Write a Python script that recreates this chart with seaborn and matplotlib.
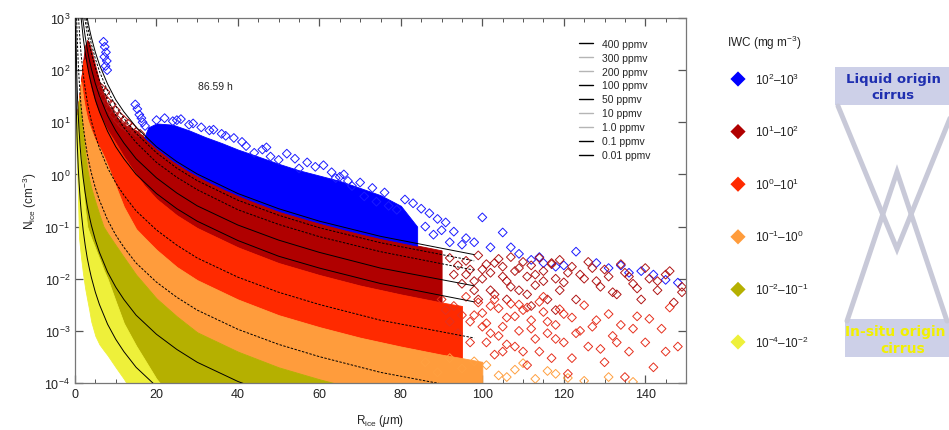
import numpy as np
import pandas as pd
import matplotlib
matplotlib.use("Agg")
import matplotlib.pyplot as plt
import seaborn as sns
from matplotlib.lines import Line2D
from matplotlib.patches import Rectangle
from matplotlib.ticker import MultipleLocator, NullLocator, LogLocator

nan = np.nan

# ---- data ----
# R grid (um) used for the dense IWC bands
r_grid = [0.2, 0.5, 1, 1.5, 2, 2.5, 3, 3.5, 4, 5, 6, 7, 8, 10, 12, 15, 17,
          20, 25, 30, 40, 50, 60, 70, 80, 90, 95, 100, 120, 140]
# top envelope of the dense cloud near the peak (cm-3)
env_top = [8, 14, 28, 60, 150, 300, 380, 330, 240, 120, 60, 35, 22, 13, 9, 7, 5.5,
           nan, nan, nan, nan, nan, nan, nan, nan, nan, nan, nan, nan, nan]
# band borders (cm-3): IWC = 100, 10, 1, 0.1, 0.01 mg m-3 and lower data edge
b_100 = [nan, nan, nan, 7560, 3190, 1630, 944, 595, 398, 204, 118, 74, 50, 25.5, 14.8, 7.6, 5.2,
         3.2, 1.63, 0.94, 0.40, 0.20, 0.118, 0.074, 0.050, 0.035, nan, nan, nan, nan]
b_10 = [nan, nan, 2550, 756, 319, 163, 94, 59, 40, 22, 14, 10, 7, 4, 2.2, 1.0, 0.62,
        0.34, 0.165, 0.094, 0.040, 0.020, 0.0118, 0.0074, 0.0050, 0.0035, 0.0030, nan, nan, nan]
b_1 = [nan, 700, 150, 60, 30, 18, 12, 9, 7, 4.5, 3.3, 2.3, 1.5, 0.6, 0.24, 0.09, 0.062,
       0.036, 0.0168, 0.0094, 0.0040, 0.0020, 0.00118, 7.4e-4, 5.0e-4, 3.5e-4, 3.0e-4, 2.55e-4, nan, nan]
b_01 = [400, 100, 35, 15, 6, 2.6, 1.3, 0.8, 0.55, 0.3, 0.17, 0.1, 0.075, 0.044, 0.026, 0.012, 0.0079,
        0.0042, 0.0019, 9.4e-4, 4.0e-4, 2.0e-4, 1.18e-4, 7.4e-5, 5e-5, 3.5e-5, 3.0e-5, 2.55e-5, nan, nan]
b_001 = [40, 20, 5, 1.5, 0.56, 0.21, 0.1, 0.076, 0.06, 0.038, 0.024, 0.015, 0.01, 0.0037, 0.0014, 5.2e-4, 2.9e-4,
         1.2e-4, 4e-5, 2e-5, 1e-5, 1e-5, 1e-5, nan, nan, nan, nan, nan, nan, nan]
b_floor = [6, 1.5, 0.06, 0.025, 0.012, 0.0065, 0.004, 0.0025, 0.0015, 8e-4, 5.5e-4, 4.3e-4, 3.4e-4, 2.0e-4, 1.2e-4, 5e-5, 3e-5,
           2e-5, 1e-5, 1e-5, nan, nan, nan, nan, nan, nan, nan, nan, nan, nan]

# dense blue band (IWC 10^2-10^3)
blue_r = [17, 18, 20, 24, 28, 32, 36, 40, 45, 50, 55, 60, 65, 70, 75, 80, 84]
blue_hi = [5.2, 8, 9.5, 9, 7, 5.2, 4, 3.0, 2.2, 1.6, 1.2, 0.95, 0.75, 0.55, 0.4, 0.25, 0.1]
blue_lo = [5.2, 4.4, 3.2, 1.84, 1.16, 0.78, 0.55, 0.40, 0.28, 0.20, 0.153, 0.118, 0.093, 0.074, 0.060, 0.050, 0.043]

# constant ice mixing ratio lines
line_labels = ["400 ppmv", "300 ppmv", "200 ppmv", "100 ppmv", "50 ppmv",
               "10 ppmv", "1.0 ppmv", "0.1 ppmv", "0.01 ppmv"]
line_r = [0.1, 0.2, 0.3, 0.4, 0.5, 0.6, 0.8, 1, 1.25, 1.5, 2, 2.5, 3, 3.5, 4, 5, 6, 8,
          10, 12, 15, 20, 25, 30, 40, 50, 60, 75, 98]
line_n = [
    [2.7e7, 3.4e6, 1.0e6, 4.3e5, 2.2e5, 1.3e5, 5.4e4, 2.7e4, 1.4e4, 8.1e3, 3.4e3, 1.8e3, 1.0e3, 640, 430, 220, 127, 54,
     27, 15.9, 8.1, 3.4, 1.76, 1.02, 0.43, 0.22, 0.127, 0.065, 0.029],
    [2.1e7, 2.6e6, 7.6e5, 3.2e5, 1.6e5, 9.5e4, 4.0e4, 2.1e4, 1.05e4, 6.1e3, 2.6e3, 1.3e3, 760, 480, 320, 165, 95, 40,
     20.6, 11.9, 6.1, 2.6, 1.32, 0.76, 0.32, 0.165, 0.095, 0.049, 0.022],
    [1.4e7, 1.7e6, 5.1e5, 2.1e5, 1.1e5, 6.4e4, 2.7e4, 1.4e4, 7.0e3, 4.1e3, 1.7e3, 880, 510, 320, 214, 110, 64, 27,
     13.7, 7.9, 4.1, 1.7, 0.88, 0.51, 0.21, 0.11, 0.064, 0.033, 0.0146],
    [6.9e6, 8.6e5, 2.5e5, 1.07e5, 5.5e4, 3.2e4, 1.3e4, 6.9e3, 3.5e3, 2.0e3, 860, 440, 254, 160, 107, 55, 32, 13.4,
     6.9, 4.0, 2.0, 0.86, 0.44, 0.25, 0.107, 0.055, 0.032, 0.016, 0.0073],
    [3.4e6, 4.3e5, 1.3e5, 5.4e4, 2.7e4, 1.6e4, 6.7e3, 3.4e3, 1.76e3, 1.0e3, 430, 220, 127, 80, 54, 27, 15.9, 6.7,
     3.4, 2.0, 1.0, 0.43, 0.22, 0.127, 0.054, 0.027, 0.016, 0.0081, 0.0036],
    [6.9e5, 8.6e4, 2.5e4, 1.07e4, 5.5e3, 3.2e3, 1.3e3, 690, 350, 200, 86, 44, 25, 16, 10.7, 5.5, 3.2, 1.34,
     0.69, 0.40, 0.20, 0.086, 0.044, 0.025, 0.0107, 0.0055, 0.0032, 0.0016, 7.3e-4],
    [6.9e4, 8.6e3, 2.5e3, 1.07e3, 550, 320, 134, 69, 35, 20, 8.6, 4.4, 2.5, 1.6, 1.07, 0.55, 0.32, 0.134,
     0.069, 0.040, 0.020, 0.0086, 0.0044, 0.0025, 0.00107, 5.5e-4, 3.2e-4, 1.6e-4, 7.3e-5],
    [6.9e3, 860, 250, 107, 55, 32, 13.4, 6.9, 3.5, 2.0, 0.86, 0.44, 0.25, 0.16, 0.107, 0.055, 0.032, 0.0134,
     0.0069, 0.0040, 0.0020, 8.6e-4, 4.4e-4, 2.5e-4, 1.07e-4, 5.5e-5, 3.2e-5, 1.6e-5, 7.3e-6],
    [690, 86, 25, 10.7, 5.5, 3.2, 1.34, 0.69, 0.35, 0.20, 0.086, 0.044, 0.025, 0.016, 0.0107, 0.0055, 0.0032, 0.00134,
     6.9e-4, 4.0e-4, 2.0e-4, 8.6e-5, 4.4e-5, 2.5e-5, 1.07e-5, 5.5e-6, 3.2e-6, 1.6e-6, 7.3e-7],
]

# sparse (open diamond) points
blue_pts_r = [7.0, 7.3, 7.6, 7.2, 7.8, 7.5, 7.9, 14.8, 15.3, 15.8, 16.3, 16.6, 17.2,
              42, 44, 46, 48, 50, 54, 55, 63, 65, 67, 64, 68, 71, 74, 77, 79,
              86, 88, 90, 92, 95, 100, 105, 107, 112, 115, 118, 120, 123,
              128, 131, 134, 136, 139, 142, 145, 148, 25, 28, 33, 37,
              20, 22, 24, 26, 29, 31, 34, 36, 39, 41, 47, 52, 57, 59, 61, 66, 70, 73, 76,
              81, 83, 85, 87, 89, 91, 93, 96, 98, 102, 109, 114]
blue_pts_n = [350, 280, 220, 180, 150, 120, 100, 22, 18, 14, 12, 10, 8.5,
              3.5, 2.6, 3.0, 2.2, 1.9, 2.0, 1.3, 1.1, 0.9, 0.75, 0.85, 0.6, 0.38, 0.3, 0.25, 0.21,
              0.1, 0.07, 0.085, 0.05, 0.045, 0.15, 0.077, 0.04, 0.023, 0.02, 0.017, 0.018, 0.033,
              0.02, 0.016, 0.018, 0.013, 0.014, 0.012, 0.0095, 0.0084, 11, 9, 7, 5.5,
              11, 12, 10.5, 11.5, 9.5, 8, 7.2, 6, 5, 4.2, 3.3, 2.5, 1.7, 1.4, 1.5, 1.0, 0.7, 0.55, 0.45,
              0.33, 0.28, 0.22, 0.18, 0.14, 0.12, 0.08, 0.06, 0.05, 0.04, 0.03, 0.026]
dred_pts_r = [6.5, 7, 7.5, 8, 8.5, 9, 9.5, 10, 10.5, 11, 11.5, 12, 12.5, 13, 13.5, 14, 15, 16,
              96, 98, 99, 100, 102, 103, 105, 106, 107, 109, 111, 112, 113, 115, 117, 118,
              119, 121, 123, 125, 127, 129, 131, 133, 135, 137, 139, 141, 143, 145, 147, 149,
              92, 93, 94, 95, 96, 97, 98, 99, 100, 101, 102, 103, 104, 105, 106, 107, 108, 109,
              110, 111, 112, 113, 114, 115, 116, 117, 118, 119, 120, 122, 124, 126, 128, 130,
              132, 134, 136, 138, 140, 143, 146, 149]
dred_pts_n = [45, 30, 38, 25, 18, 22, 14, 17, 11, 13, 9, 11, 8, 9.5, 7, 8, 6.5, 6,
              0.012, 0.009, 0.004, 0.015, 0.006, 0.02, 0.011, 0.004, 0.007, 0.016, 0.005, 0.003, 0.012,
              0.009, 0.02, 0.0025, 0.006, 0.013, 0.004, 0.01, 0.016, 0.007, 0.011, 0.005, 0.013, 0.008,
              0.004, 0.01, 0.006, 0.012, 0.0035, 0.007,
              0.025, 0.012, 0.018, 0.008, 0.022, 0.015, 0.006, 0.028, 0.01, 0.019, 0.013, 0.005, 0.024,
              0.017, 0.009, 0.026, 0.014, 0.006, 0.021, 0.011, 0.018, 0.0075, 0.025, 0.014, 0.004,
              0.019, 0.01, 0.023, 0.0085, 0.017, 0.012, 0.021, 0.009, 0.015, 0.0055, 0.019, 0.011,
              0.0065, 0.016, 0.009, 0.014, 0.0055]
red_pts_r = [97, 98, 100, 101, 102, 104, 105, 106, 108, 110, 111, 112, 114, 116, 118, 120, 121, 122,
             124, 126, 128, 130, 132, 134, 135, 136, 138, 140, 142, 144, 146, 148, 103, 109, 115,
             90, 91, 92, 93, 94, 95, 96, 97, 99, 100, 101, 102, 103, 104, 105, 106, 107, 108, 109, 110,
             111, 112, 113, 114, 115, 116, 117, 118, 119, 120, 122, 123, 125, 127, 129, 131, 133, 137,
             141, 145]
red_pts_n = [0.0015, 0.002, 0.0012, 0.0006, 0.003, 0.0008, 0.0004, 0.0018, 0.0005, 0.0025, 0.00022,
             0.0011, 0.0004, 0.0015, 0.0007, 0.0021, 0.00015, 0.0003, 0.001, 0.0005, 0.0016, 0.00025,
             0.0008, 0.0013, 0.00013, 0.0004, 0.0019, 0.0006, 0.0002, 0.0011, 0.0028, 0.0005, 0.00035,
             0.0032, 0.0045,
             0.004, 0.0025, 0.0015, 0.003, 0.0009, 0.002, 0.0045, 0.0006, 0.0035, 0.0022, 0.0014, 0.0009,
             0.004, 0.0027, 0.0012, 0.00055, 0.0033, 0.0019, 0.001, 0.0004, 0.0028, 0.0016, 0.0007,
             0.0036, 0.0023, 0.0009, 0.0003, 0.0013, 0.0026, 0.0006, 0.0018, 0.0009, 0.0031, 0.0012,
             0.00045, 0.0021, 0.0006, 0.0011, 0.0017, 0.0004]
orng_pts_r = [101, 104, 108, 113, 118, 125, 131, 137, 86, 89, 92, 95, 98, 106, 110, 116, 121]
orng_pts_n = [2.2e-4, 1.4e-4, 1.8e-4, 1.2e-4, 1.5e-4, 1.1e-4, 1.3e-4, 1.05e-4,
              2.5e-4, 1.6e-4, 3e-4, 1.9e-4, 2.6e-4, 1.3e-4, 2.4e-4, 1.7e-4, 1.25e-4]

iwc_labels = [r"$10^{2}$–$10^{3}$", r"$10^{1}$–$10^{2}$", r"$10^{0}$–$10^{1}$",
              r"$10^{-1}$–$10^{0}$", r"$10^{-2}$–$10^{-1}$", r"$10^{-4}$–$10^{-2}$"]
iwc_colors = ["#0000ff", "#b00000", "#ff2a00", "#ff9c3c", "#b5b000", "#eef03a"]

# ---- figure ----
sns.set_style("ticks")
plt.rcParams["font.family"] = ["Liberation Sans", "DejaVu Sans"]
plt.rcParams["mathtext.fontset"] = "custom"
plt.rcParams["mathtext.rm"] = "Liberation Sans"
plt.rcParams["mathtext.it"] = "Liberation Sans:italic"

W, H = 949, 431
fig = plt.figure(figsize=(W / 100, H / 100), dpi=100)
ax = fig.add_axes([75 / W, 1 - 384 / H, (686 - 75) / W, (384 - 19) / H])

R = np.array(r_grid)
env = np.array(env_top)
borders = [np.array(b) for b in (b_100, b_10, b_1, b_01, b_001, b_floor)]

# dense bands from dark red down to yellow
for k, col in enumerate(iwc_colors[1:]):
    hi = np.fmin(borders[k], env)
    lo = np.fmin(borders[k + 1], hi)
    ok = ~np.isnan(hi) & ~np.isnan(lo)
    lo = np.where(ok, lo, 1e-6)
    hi = np.where(ok, hi, 1e-6)
    ax.fill_between(R, lo, hi, where=ok, color=col, lw=0.6, ec=col, zorder=1)
ax.fill_between(blue_r, blue_lo, blue_hi, color=iwc_colors[0], lw=0.6, ec=iwc_colors[0], zorder=1)

# sparse diamonds
pts = pd.DataFrame({
    "R": blue_pts_r + dred_pts_r + red_pts_r + orng_pts_r,
    "N": blue_pts_n + dred_pts_n + red_pts_n + orng_pts_n,
    "grp": (["b"] * len(blue_pts_r) + ["d"] * len(dred_pts_r)
            + ["r"] * len(red_pts_r) + ["o"] * len(orng_pts_r)),
})
edge = {"b": "#1a1aff", "d": "#b01515", "r": "#e6301e", "o": "#ffa040"}
for g, sub in pts.groupby("grp"):
    sns.scatterplot(data=sub, x="R", y="N", marker="D", s=20, facecolor="none",
                    edgecolor=edge[g], linewidth=0.7, ax=ax, zorder=2)

# mixing ratio lines
dashed = [False, True, True, False, False, True, True, False, False]
for vals, d in zip(line_n, dashed):
    ax.plot(line_r, vals, color="black", lw=0.7, ls=(0, (2.5, 1.5)) if d else "-", zorder=3)

handles = [Line2D([], [], color="#b5b5b5" if d else "black", lw=1.0) for d in dashed]
ax.legend(handles, line_labels, loc="upper right", bbox_to_anchor=(0.948, 0.955),
          frameon=False, fontsize=7.5, handlelength=1.4, handletextpad=0.8,
          labelspacing=0.38, borderaxespad=0)
ax.text(34.5, 50, "86.59 h", fontsize=7.5, ha="center", va="center")

ax.set_yscale("log")
ax.set_xlim(0, 150)
ax.set_ylim(1e-4, 1e3)
ax.xaxis.set_major_locator(MultipleLocator(20))
ax.xaxis.set_minor_locator(MultipleLocator(5))
ax.yaxis.set_major_locator(LogLocator(base=10, numticks=10))
ax.yaxis.set_minor_locator(NullLocator())
ax.tick_params(which="both", direction="in", top=True, right=True, colors="#555555",
               labelcolor="#222222", labelsize=9)
ax.tick_params(which="major", length=6, width=0.9)
ax.tick_params(which="minor", length=3, width=0.7)
for s in ax.spines.values():
    s.set_color("#777777")
    s.set_linewidth(0.9)
ax.set_xlabel(r"R$_{\rm ice}$ ($\mu$m)", fontsize=8.5, labelpad=9)
ax.set_ylabel(r"N$_{\rm ice}$ (cm$^{-3}$)", fontsize=8.5, labelpad=4)

# ---- right hand panel (pixel coordinates) ----
pa = fig.add_axes([0, 0, 1, 1], zorder=5)
pa.set_xlim(0, W)
pa.set_ylim(H, 0)
pa.axis("off")
pa.patch.set_alpha(0)

pa.text(727, 43, r"IWC (mg m$^{-3}$)", fontsize=8.5, va="center", ha="left", color="#222222")
for i, (lab, col) in enumerate(zip(iwc_labels, iwc_colors)):
    y = 80 + i * 52.6
    pa.scatter([738], [y], marker="D", s=60, color=col, edgecolor="none")
    pa.text(755, y, lab, fontsize=8.5, va="center", ha="left", color="#222222")

grey = "#c8c9d8"
pa.plot([838, 897, 955], [107, 250, 107], color=grey, lw=3.6, solid_joinstyle="miter")
pa.plot([847, 897, 947], [322, 173, 322], color=grey, lw=3.6, solid_joinstyle="miter")
pa.add_patch(Rectangle((835, 68), 120, 38, color="#cdd0e8", lw=0))
pa.add_patch(Rectangle((845, 320), 110, 38, color="#cdd0e8", lw=0))
pa.text(893, 79, "Liquid origin", fontsize=9.5, fontweight="bold", color="#1f2fb0",
        ha="center", va="center", family="DejaVu Sans")
pa.text(893, 96, "cirrus", fontsize=9.5, fontweight="bold", color="#1f2fb0",
        ha="center", va="center", family="DejaVu Sans")
pa.text(845, 332, "In-situ origin", fontsize=10, fontweight="bold", color="#f2f000",
        ha="left", va="center", family="DejaVu Sans")
pa.text(903, 349, "cirrus", fontsize=10, fontweight="bold", color="#f2f000",
        ha="center", va="center", family="DejaVu Sans")

fig.savefig("out.png", dpi=100)
